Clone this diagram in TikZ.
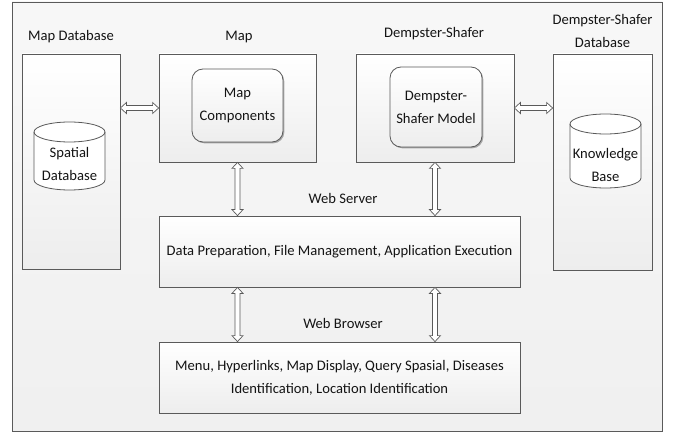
\documentclass[tikz,border=0pt]{standalone}
\usepackage{fontspec}
\setmainfont{Carlito}
\usetikzlibrary{calc,shadows}
\definecolor{ln}{HTML}{5A5A5A}
\definecolor{txt}{HTML}{141414}
\tikzset{
  lbl/.style={font=\fontsize{14.6}{23}\selectfont, text=txt, align=center, inner sep=0pt},
  box/.style={draw=ln, line width=0.8pt, top color=white, bottom color=black!7, inner sep=0pt,
    drop shadow={shadow xshift=1.3pt, shadow yshift=-1.3pt, fill=black, opacity=0.3},
    font=\fontsize{14.6}{23}\selectfont, text=txt, align=center},
  rbox/.style={box, rounded corners=11pt},
  cyl/.style={draw=ln, line width=0.8pt, fill=white},
  frame/.style={draw=ln, line width=0.9pt, top color=black!3, bottom color=black!6},
  dblarrow/.style={draw=ln, line width=0.7pt, fill=white, line join=miter},
}
\newcommand\hollowV[2]{%
  \draw[dblarrow] (#1) -- ++(5.5,-6) -- ++(-3,0) -- ($(#2)+(2.5,6)$) -- ++(3,0) -- (#2)
    -- ++(-5.5,6) -- ++(3,0) -- ($(#1)+(-2.5,-6)$) -- ++(-3,0) -- cycle;}
\newcommand\hollowH[2]{%
  \draw[dblarrow] (#1) -- ++(6,5.5) -- ++(0,-3) -- ($(#2)+(-6,2.5)$) -- ++(0,3) -- (#2)
    -- ++(-6,-5.5) -- ++(0,3) -- ($(#1)+(6,-2.5)$) -- ++(0,-3) -- cycle;}
\begin{document}
\begin{tikzpicture}[x=1pt,y=1pt]
\useasboundingbox (0,0) rectangle (676,434);
% outer frame
\path[frame] (12,3) rectangle (662,432);

% boxes
\node[box, minimum width=98pt, minimum height=215pt] (mapdb) at (71,272.5) {};
\node[box, minimum width=157pt, minimum height=108pt] (map) at (237.5,326) {};
\node[rbox, minimum width=91pt, minimum height=73pt] (mapcomp) at (237.5,328.5) {Map\\Components};
\node[box, minimum width=158pt, minimum height=108pt] (ds) at (435,326) {};
\node[rbox, minimum width=92pt, minimum height=80pt] (dsmodel) at (436,327) {Dempster-\\Shafer Model};
\node[box, minimum width=99pt, minimum height=216pt] (dsdb) at (602.5,272) {};
\node[box, minimum width=361pt, minimum height=71pt] (server) at (339.5,182.5)
  {Data Preparation, File Management, Application Execution};
\node[box, minimum width=361pt, minimum height=71pt] (browser) at (339.5,56.5)
  {Menu, Hyperlinks, Map Display, Query Spasial, Diseases\\Identification, Location Identification};

% cylinders
\draw[cyl] (34,302) -- (34,254) arc[start angle=180,end angle=360,x radius=35.5pt,y radius=10pt]
  -- (105,302) arc[start angle=0,end angle=180,x radius=35.5pt,y radius=10pt] -- cycle;
\draw[cyl, fill=none] (34,302) arc[start angle=180,end angle=360,x radius=35.5pt,y radius=10pt];
\node[lbl] (spatial) at (69.5,270) {Spatial\\Database};

\draw[cyl] (570,310) -- (570,256) arc[start angle=180,end angle=360,x radius=35.5pt,y radius=10pt]
  -- (641,310) arc[start angle=0,end angle=180,x radius=35.5pt,y radius=10pt] -- cycle;
\draw[cyl, fill=none] (570,310) arc[start angle=180,end angle=360,x radius=35.5pt,y radius=10pt];
\node[lbl] (kb) at (605.5,269) {Knowledge\\Base};

% labels
\node[lbl] (lmapdb) at (71,397) {Map Database};
\node[lbl] (lmap) at (239,397) {Map};
\node[lbl] (lds) at (434,400) {Dempster-Shafer};
\node[lbl] (ldsdb) at (602.5,403) {Dempster-Shafer\\Database};
\node[lbl] (lserver) at (343,236) {Web Server};
\node[lbl] (lbrowser) at (343,111) {Web Browser};

% arrows
\hollowH{mapdb.east |- map.west}{map.west}
\hollowH{ds.east}{dsdb.west |- ds.east}
\hollowV{map.south}{map.south |- server.north}
\hollowV{ds.south}{ds.south |- server.north}
\hollowV{server.south -| map.south}{browser.north -| map.south}
\hollowV{server.south -| ds.south}{browser.north -| ds.south}
\end{tikzpicture}
\end{document}
